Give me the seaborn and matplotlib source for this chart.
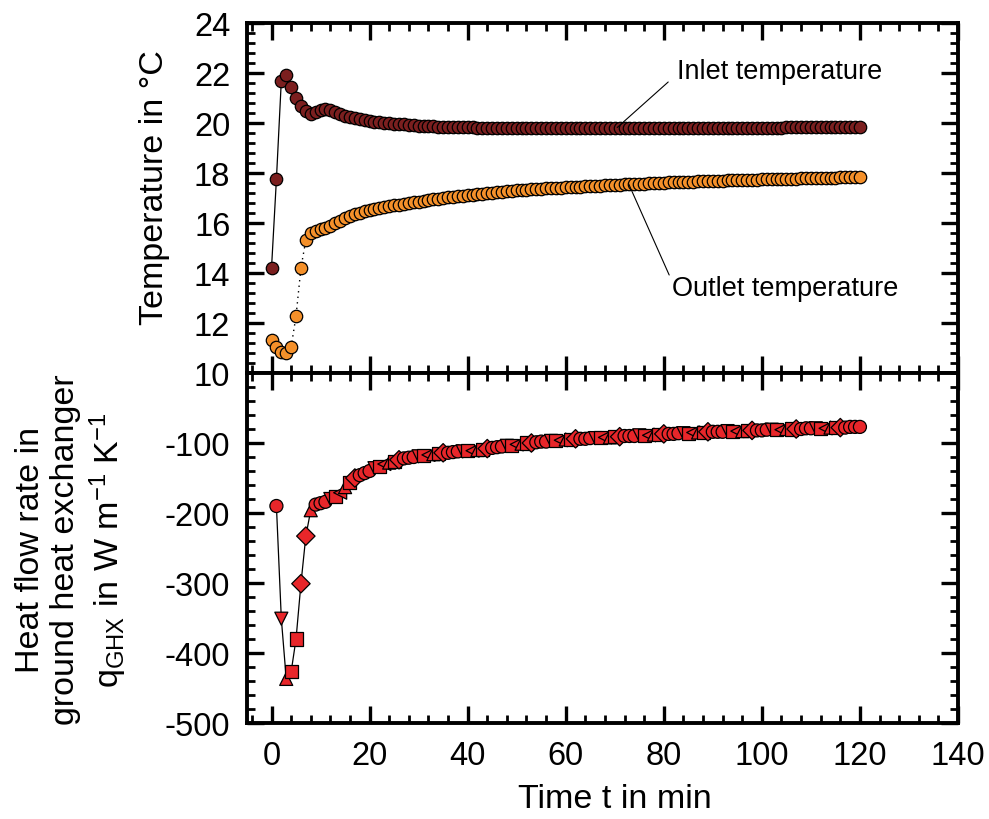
import numpy as np
import pandas as pd
import matplotlib
matplotlib.use("Agg")
import matplotlib.pyplot as plt
import seaborn as sns
from matplotlib.ticker import MultipleLocator

# ---------------- data ----------------
time_temp = list(range(0, 121))
inlet_temp = [
    14.2, 17.75, 21.7, 21.92, 21.44, 21.0, 20.68, 20.48, 20.36, 20.44,
    20.52, 20.58, 20.52, 20.44, 20.36, 20.3, 20.25, 20.2, 20.16, 20.12,
    20.09, 20.06, 20.04, 20.02, 20.0, 19.98, 19.96, 19.95, 19.93, 19.92,
    19.9, 19.89, 19.88, 19.87, 19.86, 19.85, 19.85, 19.84, 19.84, 19.83,
    19.83, 19.83, 19.82, 19.82, 19.82, 19.82, 19.81, 19.81, 19.81, 19.81,
    19.81, 19.81, 19.81, 19.81, 19.81, 19.81, 19.81, 19.81, 19.81, 19.81,
    19.81, 19.81, 19.81, 19.81, 19.81, 19.81, 19.81, 19.81, 19.81, 19.81,
    19.81, 19.81, 19.81, 19.82, 19.82, 19.82, 19.82, 19.82, 19.82, 19.82,
    19.82, 19.82, 19.82, 19.82, 19.82, 19.82, 19.82, 19.82, 19.82, 19.82,
    19.82, 19.82, 19.82, 19.82, 19.82, 19.82, 19.82, 19.82, 19.82, 19.82,
    19.82, 19.82, 19.82, 19.82, 19.82, 19.83, 19.83, 19.83, 19.83, 19.83,
    19.83, 19.83, 19.83, 19.83, 19.83, 19.84, 19.84, 19.84, 19.84, 19.84,
    19.84,
]
outlet_temp = [
    11.32, 11.04, 10.84, 10.8, 11.04, 12.28, 14.2, 15.32, 15.6, 15.68,
    15.76, 15.8, 15.88, 16.0, 16.1, 16.22, 16.3, 16.37, 16.42, 16.47,
    16.52, 16.56, 16.6, 16.64, 16.68, 16.71, 16.74, 16.77, 16.8, 16.83,
    16.86, 16.89, 16.92, 16.95, 16.98, 17.01, 17.03, 17.05, 17.07, 17.09,
    17.12, 17.14, 17.16, 17.18, 17.2, 17.22, 17.24, 17.26, 17.28, 17.3,
    17.32, 17.33, 17.34, 17.35, 17.36, 17.38, 17.39, 17.4, 17.41, 17.42,
    17.43, 17.44, 17.45, 17.46, 17.47, 17.48, 17.49, 17.5, 17.51, 17.52,
    17.53, 17.54, 17.55, 17.56, 17.57, 17.58, 17.58, 17.59, 17.6, 17.61,
    17.62, 17.63, 17.63, 17.64, 17.65, 17.65, 17.66, 17.67, 17.67, 17.68,
    17.69, 17.69, 17.7, 17.71, 17.71, 17.72, 17.72, 17.73, 17.74, 17.74,
    17.75, 17.75, 17.76, 17.76, 17.77, 17.77, 17.78, 17.78, 17.79, 17.79,
    17.8, 17.8, 17.81, 17.81, 17.82, 17.82, 17.83, 17.83, 17.84, 17.84,
    17.85,
]
time_q = list(range(1, 121))
heat_flow = [
    -190, -351, -437, -427, -380, -301, -233, -196, -188,
    -186, -184, -180, -176, -171, -163, -157, -150, -146, -143,
    -140, -136, -133, -130, -128, -126, -124, -122, -121, -120,
    -119, -118, -117, -116, -115, -114, -114, -113, -112, -112,
    -111, -111, -110, -109, -108, -107, -106, -105, -104, -103,
    -102, -101, -100, -100, -99, -98, -98, -97, -96, -96,
    -95, -95, -94, -94, -94, -93, -93, -92, -92, -92,
    -91, -91, -90, -90, -90, -89, -89, -89, -88, -88,
    -87, -87, -87, -86, -86, -86, -85, -85, -85, -84,
    -84, -84, -84, -83, -83, -83, -83, -82, -82, -82,
    -82, -81, -81, -81, -81, -80, -80, -80, -80, -79,
    -79, -79, -79, -79, -78, -78, -78, -78, -77, -77, -77,
]
x_ticks = [0, 20, 40, 60, 80, 100, 120, 140]
temp_ticks = [10, 12, 14, 16, 18, 20, 22, 24]
q_ticks = [-500, -400, -300, -200, -100]

# marker styles for the heat-flow series
head_markers = ['o', 'v', '^', 's', 's', 'D', 'D', '^']
tail_cycle = ['o', 'o', 'o', 'v', 's', '<', '^', 's', 'D']
q_markers = head_markers + [tail_cycle[i % len(tail_cycle)]
                            for i in range(len(heat_flow) - len(head_markers) - 1)] + ['o']

# ---------------- style ----------------
sns.set_style("ticks")
plt.rcParams['font.family'] = ['Liberation Sans', 'DejaVu Sans']
plt.rcParams['axes.unicode_minus'] = False
plt.rcParams['mathtext.default'] = 'regular'
for key in ('text.color', 'axes.labelcolor', 'xtick.color', 'ytick.color',
            'axes.edgecolor'):
    plt.rcParams[key] = 'black'

C_IN = '#7B1F1F'
C_OUT = '#F4902A'
C_Q = '#E8262A'

TICK_FS = 23.5
LABEL_FS = 24.5

fig = plt.figure(figsize=(9.89, 8.2), dpi=100)
L, W = 247 / 989, (958 - 247) / 989
ax1 = fig.add_axes([L, 1 - 374 / 820, W, 350 / 820])
ax2 = fig.add_axes([L, 1 - 724 / 820, W, 350 / 820])

# ---------------- top panel ----------------
df_t = pd.DataFrame({'t': time_temp, 'inlet': inlet_temp, 'outlet': outlet_temp})
sns.lineplot(data=df_t, x='t', y='inlet', ax=ax1, color='black', lw=0.9,
             sort=False, estimator=None, zorder=2)
sns.lineplot(data=df_t, x='t', y='outlet', ax=ax1, color='black', lw=1.0,
             linestyle=(0, (1, 3)), sort=False, estimator=None, zorder=2)
sns.scatterplot(data=df_t, x='t', y='inlet', ax=ax1, color=C_IN, s=80,
                edgecolor='black', linewidth=0.9, zorder=3, legend=False)
sns.scatterplot(data=df_t, x='t', y='outlet', ax=ax1, color=C_OUT, s=80,
                edgecolor='black', linewidth=0.9, zorder=3, legend=False)

ax1.annotate('', xy=(70.5, 19.82), xytext=(80.9, 21.64),
             arrowprops=dict(arrowstyle='-', color='black', lw=0.8,
                             shrinkA=0, shrinkB=0))
ax1.text(82.6, 22.08, 'Inlet temperature', fontsize=19.5, va='center', ha='left')
ax1.annotate('', xy=(72.8, 17.58), xytext=(81.1, 13.92),
             arrowprops=dict(arrowstyle='-', color='black', lw=0.8,
                             shrinkA=0, shrinkB=0))
ax1.text(81.6, 13.4, 'Outlet temperature', fontsize=19.5, va='center', ha='left')

ax1.set_xlim(-5, 140)
ax1.set_ylim(10, 24)
ax1.set_yticks(temp_ticks)
ax1.set_xticks(x_ticks)
ax1.set_xticklabels([])
ax1.yaxis.set_minor_locator(MultipleLocator(0.4))
ax1.xaxis.set_minor_locator(MultipleLocator(4))
ax1.set_xlabel('')
ax1.set_ylabel('')

# ---------------- bottom panel ----------------
df_q = pd.DataFrame({'t': time_q, 'q': heat_flow, 'm': q_markers})
sns.lineplot(data=df_q, x='t', y='q', ax=ax2, color='black', lw=0.9,
             sort=False, estimator=None, zorder=2)
sns.scatterplot(data=df_q, x='t', y='q', ax=ax2, style='m',
                markers={m: m for m in set(q_markers)}, color=C_Q, s=88,
                edgecolor='black', linewidth=0.9, zorder=3, legend=False)
ax2.set_xlim(-5, 140)
ax2.set_ylim(-500, 0)
ax2.set_yticks(q_ticks)
ax2.set_xticks(x_ticks)
ax2.yaxis.set_minor_locator(MultipleLocator(20))
ax2.xaxis.set_minor_locator(MultipleLocator(4))
ax2.set_xlabel('')
ax2.set_ylabel('')

for ax in (ax1, ax2):
    ax.tick_params(which='both', direction='in', top=True, right=True,
                   bottom=True, left=True, color='black', labelcolor='black')
    ax.tick_params(which='major', length=12, width=2.4, labelsize=TICK_FS, pad=12)
    ax.tick_params(which='minor', length=6, width=2.0)
    for sp in ax.spines.values():
        sp.set_linewidth(2.8)
        sp.set_color('black')
        sp.set_visible(True)

# ---------------- labels ----------------
fig.text(155 / 989, 1 - 188 / 820, 'Temperature in °C', rotation=90,
         ha='center', va='center', fontsize=LABEL_FS)
fig.text(72 / 989, 1 - 550 / 820,
         'Heat flow rate in\nground heat exchanger\n'
         'q$_{GHX}$ in W m$^{-1}$ K$^{-1}$',
         rotation=90, ha='center', va='center', fontsize=LABEL_FS,
         multialignment='center', linespacing=1.2)
fig.text(615 / 989, 1 - 800 / 820, 'Time t in min', ha='center', va='center',
         fontsize=LABEL_FS)

fig.savefig('out.png', dpi=100)
